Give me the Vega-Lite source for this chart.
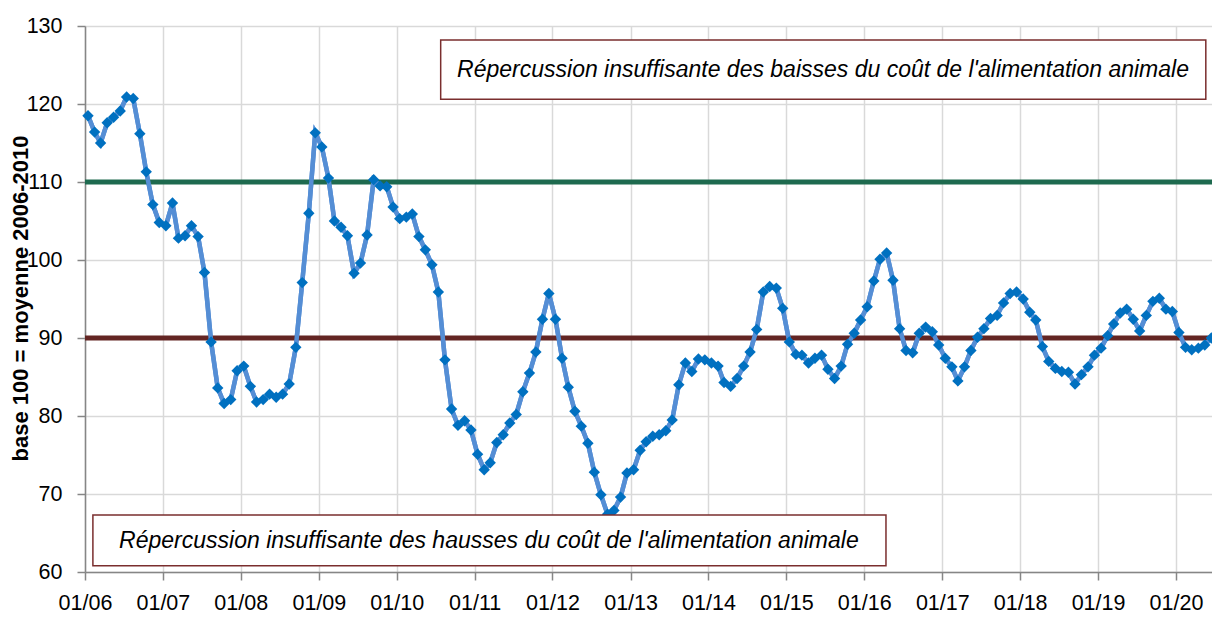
{
  "$schema": "https://vega.github.io/schema/vega-lite/v6.json",
  "autosize": {"type": "none"},
  "width": 1127,
  "height": 546,
  "padding": {"left": 85, "top": 26, "right": 0, "bottom": 45},
  "background": "white",
  "config": {
    "view": {"stroke": null},
    "font": "Liberation Sans, Arial, sans-serif"
  },
  "datasets": {
    "series": [
      {"date": "2006-01-15", "v": 118.5}, {"date": "2006-02-15", "v": 116.4}, {"date": "2006-03-15", "v": 115.0}, {"date": "2006-04-15", "v": 117.6}, {"date": "2006-05-15", "v": 118.3}, {"date": "2006-06-15", "v": 119.1}, {"date": "2006-07-15", "v": 120.9}, {"date": "2006-08-15", "v": 120.7}, {"date": "2006-09-15", "v": 116.2}, {"date": "2006-10-15", "v": 111.3}, {"date": "2006-11-15", "v": 107.1}, {"date": "2006-12-15", "v": 104.8},
      {"date": "2007-01-15", "v": 104.4}, {"date": "2007-02-15", "v": 107.3}, {"date": "2007-03-15", "v": 102.8}, {"date": "2007-04-15", "v": 103.1}, {"date": "2007-05-15", "v": 104.4}, {"date": "2007-06-15", "v": 103.0}, {"date": "2007-07-15", "v": 98.4}, {"date": "2007-08-15", "v": 89.5}, {"date": "2007-09-15", "v": 83.6}, {"date": "2007-10-15", "v": 81.6}, {"date": "2007-11-15", "v": 82.1}, {"date": "2007-12-15", "v": 85.8},
      {"date": "2008-01-15", "v": 86.4}, {"date": "2008-02-15", "v": 83.8}, {"date": "2008-03-15", "v": 81.8}, {"date": "2008-04-15", "v": 82.1}, {"date": "2008-05-15", "v": 82.8}, {"date": "2008-06-15", "v": 82.4}, {"date": "2008-07-15", "v": 82.8}, {"date": "2008-08-15", "v": 84.1}, {"date": "2008-09-15", "v": 88.8}, {"date": "2008-10-15", "v": 97.1}, {"date": "2008-11-15", "v": 106.0}, {"date": "2008-12-15", "v": 116.3},
      {"date": "2009-01-15", "v": 114.5}, {"date": "2009-02-15", "v": 110.5}, {"date": "2009-03-15", "v": 105.0}, {"date": "2009-04-15", "v": 104.2}, {"date": "2009-05-15", "v": 103.1}, {"date": "2009-06-15", "v": 98.3}, {"date": "2009-07-15", "v": 99.6}, {"date": "2009-08-15", "v": 103.2}, {"date": "2009-09-15", "v": 110.3}, {"date": "2009-10-15", "v": 109.5}, {"date": "2009-11-15", "v": 109.4}, {"date": "2009-12-15", "v": 106.8},
      {"date": "2010-01-15", "v": 105.3}, {"date": "2010-02-15", "v": 105.5}, {"date": "2010-03-15", "v": 105.9}, {"date": "2010-04-15", "v": 103.0}, {"date": "2010-05-15", "v": 101.3}, {"date": "2010-06-15", "v": 99.4}, {"date": "2010-07-15", "v": 95.9}, {"date": "2010-08-15", "v": 87.2}, {"date": "2010-09-15", "v": 80.9}, {"date": "2010-10-15", "v": 78.8}, {"date": "2010-11-15", "v": 79.4}, {"date": "2010-12-15", "v": 78.2},
      {"date": "2011-01-15", "v": 75.1}, {"date": "2011-02-15", "v": 73.1}, {"date": "2011-03-15", "v": 74.0}, {"date": "2011-04-15", "v": 76.6}, {"date": "2011-05-15", "v": 77.6}, {"date": "2011-06-15", "v": 79.1}, {"date": "2011-07-15", "v": 80.2}, {"date": "2011-08-15", "v": 83.1}, {"date": "2011-09-15", "v": 85.5}, {"date": "2011-10-15", "v": 88.2}, {"date": "2011-11-15", "v": 92.4}, {"date": "2011-12-15", "v": 95.7},
      {"date": "2012-01-15", "v": 92.4}, {"date": "2012-02-15", "v": 87.4}, {"date": "2012-03-15", "v": 83.7}, {"date": "2012-04-15", "v": 80.6}, {"date": "2012-05-15", "v": 78.7}, {"date": "2012-06-15", "v": 76.5}, {"date": "2012-07-15", "v": 72.8}, {"date": "2012-08-15", "v": 69.9}, {"date": "2012-09-15", "v": 67.4}, {"date": "2012-10-15", "v": 67.9}, {"date": "2012-11-15", "v": 69.6}, {"date": "2012-12-15", "v": 72.7},
      {"date": "2013-01-15", "v": 73.1}, {"date": "2013-02-15", "v": 75.6}, {"date": "2013-03-15", "v": 76.7}, {"date": "2013-04-15", "v": 77.4}, {"date": "2013-05-15", "v": 77.6}, {"date": "2013-06-15", "v": 78.1}, {"date": "2013-07-15", "v": 79.5}, {"date": "2013-08-15", "v": 84.0}, {"date": "2013-09-15", "v": 86.8}, {"date": "2013-10-15", "v": 85.7}, {"date": "2013-11-15", "v": 87.3}, {"date": "2013-12-15", "v": 87.2},
      {"date": "2014-01-15", "v": 86.8}, {"date": "2014-02-15", "v": 86.4}, {"date": "2014-03-15", "v": 84.3}, {"date": "2014-04-15", "v": 83.8}, {"date": "2014-05-15", "v": 84.8}, {"date": "2014-06-15", "v": 86.4}, {"date": "2014-07-15", "v": 88.2}, {"date": "2014-08-15", "v": 91.1}, {"date": "2014-09-15", "v": 95.9}, {"date": "2014-10-15", "v": 96.6}, {"date": "2014-11-15", "v": 96.4}, {"date": "2014-12-15", "v": 93.8},
      {"date": "2015-01-15", "v": 89.5}, {"date": "2015-02-15", "v": 87.9}, {"date": "2015-03-15", "v": 87.8}, {"date": "2015-04-15", "v": 86.8}, {"date": "2015-05-15", "v": 87.4}, {"date": "2015-06-15", "v": 87.8}, {"date": "2015-07-15", "v": 86.0}, {"date": "2015-08-15", "v": 84.8}, {"date": "2015-09-15", "v": 86.4}, {"date": "2015-10-15", "v": 89.2}, {"date": "2015-11-15", "v": 90.6}, {"date": "2015-12-15", "v": 92.3},
      {"date": "2016-01-15", "v": 94.0}, {"date": "2016-02-15", "v": 97.3}, {"date": "2016-03-15", "v": 100.1}, {"date": "2016-04-15", "v": 100.9}, {"date": "2016-05-15", "v": 97.4}, {"date": "2016-06-15", "v": 91.2}, {"date": "2016-07-15", "v": 88.4}, {"date": "2016-08-15", "v": 88.1}, {"date": "2016-09-15", "v": 90.6}, {"date": "2016-10-15", "v": 91.4}, {"date": "2016-11-15", "v": 90.8}, {"date": "2016-12-15", "v": 89.1},
      {"date": "2017-01-15", "v": 87.4}, {"date": "2017-02-15", "v": 86.3}, {"date": "2017-03-15", "v": 84.5}, {"date": "2017-04-15", "v": 86.3}, {"date": "2017-05-15", "v": 88.4}, {"date": "2017-06-15", "v": 90.1}, {"date": "2017-07-15", "v": 91.2}, {"date": "2017-08-15", "v": 92.5}, {"date": "2017-09-15", "v": 92.9}, {"date": "2017-10-15", "v": 94.5}, {"date": "2017-11-15", "v": 95.7}, {"date": "2017-12-15", "v": 95.9},
      {"date": "2018-01-15", "v": 95.0}, {"date": "2018-02-15", "v": 93.3}, {"date": "2018-03-15", "v": 92.3}, {"date": "2018-04-15", "v": 88.9}, {"date": "2018-05-15", "v": 87.0}, {"date": "2018-06-15", "v": 86.1}, {"date": "2018-07-15", "v": 85.7}, {"date": "2018-08-15", "v": 85.6}, {"date": "2018-09-15", "v": 84.1}, {"date": "2018-10-15", "v": 85.3}, {"date": "2018-11-15", "v": 86.3}, {"date": "2018-12-15", "v": 87.8},
      {"date": "2019-01-15", "v": 88.7}, {"date": "2019-02-15", "v": 90.3}, {"date": "2019-03-15", "v": 91.8}, {"date": "2019-04-15", "v": 93.2}, {"date": "2019-05-15", "v": 93.7}, {"date": "2019-06-15", "v": 92.4}, {"date": "2019-07-15", "v": 90.9}, {"date": "2019-08-15", "v": 92.9}, {"date": "2019-09-15", "v": 94.7}, {"date": "2019-10-15", "v": 95.1}, {"date": "2019-11-15", "v": 93.7}, {"date": "2019-12-15", "v": 93.4},
      {"date": "2020-01-15", "v": 90.7}, {"date": "2020-02-15", "v": 88.8}, {"date": "2020-03-15", "v": 88.5}, {"date": "2020-04-15", "v": 88.7}, {"date": "2020-05-15", "v": 89.1}, {"date": "2020-06-15", "v": 90.0}
    ],
    "thresholds": [
      {"level": 110, "kind": "haut"},
      {"level": 90, "kind": "bas"}
    ],
    "notes": [
      {"x": "2010-07-26", "x2": "2020-05-20", "y": 128.2, "y2": 120.6, "tx": "2015-06-22", "ty": 124.4, "label": "Répercussion insuffisante des baisses du coût de l'alimentation animale"},
      {"x": "2006-02-07", "x2": "2016-04-12", "y": 67.3, "y2": 60.8, "tx": "2011-03-09", "ty": 64.0, "label": "Répercussion insuffisante des hausses du coût de l'alimentation animale"}
    ]
  },
  "layer": [
    {
      "data": {"name": "series"},
      "mark": {"type": "line", "stroke": "#558ED5", "strokeWidth": 4.5},
      "encoding": {
        "x": {
          "field": "date", "type": "temporal",
          "scale": {"type": "utc", "domain": ["2006-01-01", "2020-06-18"]},
          "axis": {
            "title": null, "format": "%m/%y", "tickCount": {"interval": "year", "step": 1},
            "grid": true, "gridColor": "#D9D9D9", "gridWidth": 1.5,
            "domainColor": "#868686", "domainWidth": 1.5, "tickColor": "#868686", "tickWidth": 1.5, "tickSize": 8,
            "labelFontSize": 21.5, "labelColor": "#000000", "labelPadding": 12, "labelFlush": false, "labelOverlap": false
          }
        },
        "y": {
          "field": "v", "type": "quantitative",
          "scale": {"domain": [60, 130], "nice": false, "zero": false},
          "axis": {
            "title": "base 100 = moyenne 2006-2010", "titleFontSize": 22, "titleFontWeight": "bold", "titleColor": "#000000",
            "titleX": -65, "titleY": 272, "titleAngle": -90, "titleAlign": "center", "titleBaseline": "middle",
            "values": [60, 70, 80, 90, 100, 110, 120, 130],
            "grid": true, "gridColor": "#D9D9D9", "gridWidth": 1.5,
            "domainColor": "#868686", "domainWidth": 1.5, "tickColor": "#868686", "tickWidth": 1.5, "tickSize": 8,
            "labelFontSize": 21.5, "labelColor": "#000000", "labelPadding": 15
          }
        }
      }
    },
    {
      "data": {"name": "thresholds"},
      "mark": {"type": "rule", "strokeWidth": 5},
      "encoding": {
        "y": {"field": "level", "type": "quantitative"},
        "color": {"field": "kind", "type": "nominal", "scale": {"domain": ["haut", "bas"], "range": ["#1E6A4F", "#632523"]}, "legend": null}
      }
    },
    {
      "data": {"name": "series"},
      "mark": {"type": "line", "stroke": "#558ED5", "strokeWidth": 4.5},
      "encoding": {
        "x": {"field": "date", "type": "temporal"},
        "y": {"field": "v", "type": "quantitative"}
      }
    },
    {
      "data": {"name": "series"},
      "mark": {"type": "point", "shape": "diamond", "filled": true, "fill": "#0070C0", "opacity": 1, "size": 130},
      "encoding": {
        "x": {"field": "date", "type": "temporal"},
        "y": {"field": "v", "type": "quantitative"}
      }
    },
    {
      "data": {"name": "notes"},
      "mark": {"type": "rect", "fill": "#FFFFFF", "stroke": "#7A2E2E", "strokeWidth": 1.5},
      "encoding": {
        "x": {"field": "x", "type": "temporal"},
        "x2": {"field": "x2"},
        "y": {"field": "y", "type": "quantitative"},
        "y2": {"field": "y2"}
      }
    },
    {
      "data": {"name": "notes"},
      "mark": {"type": "text", "fontStyle": "italic", "fontSize": 23, "align": "center", "baseline": "middle", "color": "#000000"},
      "encoding": {
        "x": {"field": "tx", "type": "temporal"},
        "y": {"field": "ty", "type": "quantitative"},
        "text": {"field": "label"}
      }
    }
  ]
}
